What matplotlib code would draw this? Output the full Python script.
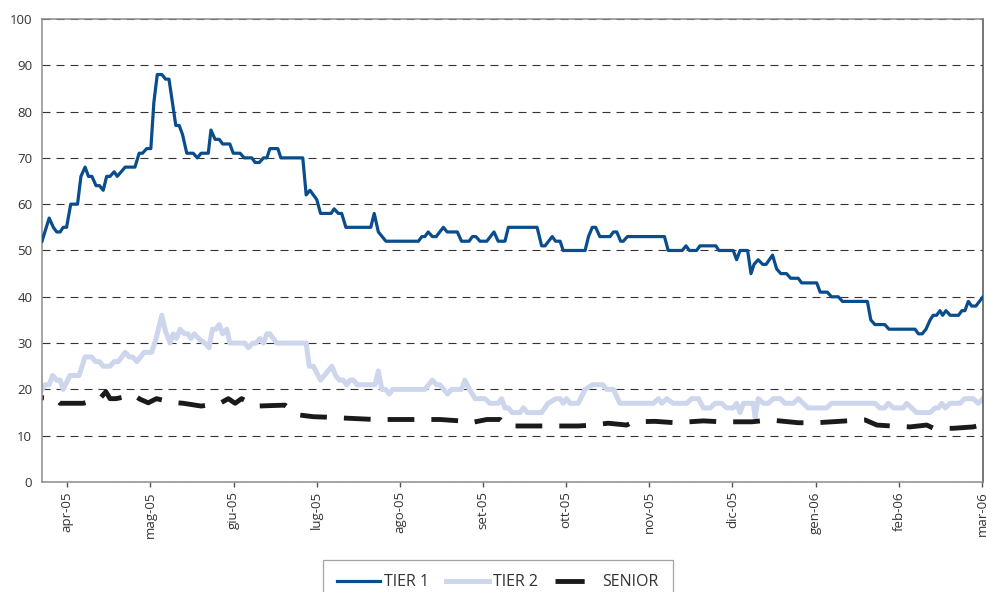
import matplotlib
matplotlib.use("Agg")
import matplotlib.pyplot as plt

plt.rcParams['font.family'] = ['Open Sans', 'DejaVu Sans']

# x = trading-day index from the start of the window (about 250 days)
month_labels = ["apr-05", "mag-05", "giu-05", "lug-05", "ago-05", "set-05",
                "ott-05", "nov-05", "dic-05", "gen-06", "feb-06", "mar-06"]

tier1_x = [0, 1.9, 3.0, 3.9, 4.8, 5.6, 6.5, 7.6, 9.4, 10.3, 11.4, 12.3, 13.2, 14.3,
           15.2, 16.2, 17.1, 18.0, 19.1, 19.9, 22.0, 24.6, 25.7, 26.6, 27.7, 28.8,
           29.6, 30.5, 31.7, 32.7, 33.6, 35.4, 36.3, 37.2, 38.3, 40.0, 41.1, 42.1,
           44.0, 44.7, 45.8, 46.9, 47.8, 49.7, 50.6, 52.4, 53.5, 55.5, 56.4, 57.5,
           58.6, 59.5, 60.3, 62.4, 63.2, 69.0, 69.9, 70.9, 72.7, 73.7, 76.5, 77.3,
           78.4, 79.3, 80.4, 87.0, 87.9, 89.0, 91.0, 99.6, 100.5, 101.3, 102.2,
           103.3, 104.3, 106.2, 107.2, 109.9, 111.0, 113.0, 113.9, 114.8, 115.9,
           117.7, 119.6, 120.7, 122.5, 123.4, 131.0, 132.2, 133.1, 135.0, 135.9,
           137.1, 137.9, 143.7, 144.6, 145.6, 146.5, 147.6, 150.3, 151.2, 152.1,
           153.1, 153.8, 154.9, 164.7, 165.7, 169.4, 170.4, 171.3, 173.2, 174.1,
           178.3, 179.1, 182.9, 183.8, 184.7, 186.7, 187.6, 188.4, 189.5, 190.7,
           191.6, 193.3, 194.4, 195.5, 197.0, 198.1, 200.1, 201.0, 205.0, 205.9,
           207.8, 208.9, 210.7, 211.8, 218.4, 219.3, 220.4, 223.0, 224.1, 231.0,
           231.9, 232.9, 233.9, 235.0, 235.8, 236.7, 237.6, 238.3, 239.2, 240.3,
           242.5, 243.4, 244.2, 245.1, 246.0, 247.1, 249.0]
tier1_y = [52, 57, 55, 54, 54, 55, 55, 60, 60, 66, 68, 66, 66, 64,
           64, 63, 66, 66, 67, 66, 68, 68, 71, 71, 72, 72,
           82, 88, 88, 87, 87, 77, 77, 75, 71, 71, 70, 71,
           71, 76, 74, 74, 73, 73, 71, 71, 70, 70, 69, 69,
           70, 70, 72, 72, 70, 70, 62, 63, 61, 58, 58, 59,
           58, 58, 55, 55, 58, 54, 52, 52, 53, 53, 54,
           53, 53, 55, 54, 54, 52, 52, 53, 53, 52,
           52, 54, 52, 52, 55, 55, 51, 51, 53, 52,
           52, 50, 50, 53, 55, 55, 53, 53, 54, 54,
           52, 52, 53, 53, 50, 50, 51, 50, 50, 51,
           51, 50, 50, 48, 50, 50, 45, 47, 48, 47,
           47, 49, 46, 45, 45, 44, 44, 43, 43, 41,
           41, 40, 40, 39, 39, 35, 34, 34, 33, 33,
           32, 32, 33, 35, 36, 36, 37, 36, 37, 36,
           36, 37, 37, 39, 38, 38, 40]

tier2_x = [0, 0.8, 1.9, 2.8, 3.9, 4.8, 5.6, 7.4, 9.8, 11.4, 13.1, 14.2, 15.2, 16.2,
           18.0, 19.1, 20.2, 22.0, 23.1, 24.0, 25.1, 27.0, 29.0, 30.2, 31.7, 32.7,
           33.9, 34.7, 35.6, 36.5, 37.7, 38.6, 39.4, 40.3, 41.8, 43.1, 44.2, 45.1,
           46.0, 46.9, 47.8, 48.9, 49.7, 53.7, 54.6, 55.8, 56.6, 57.7, 58.6, 59.5,
           60.3, 62.1, 69.9, 70.7, 71.8, 73.7, 76.7, 77.7, 78.7, 79.7, 80.6, 81.5,
           82.4, 83.4, 88.1, 89.0, 89.9, 90.9, 91.9, 92.8, 101.3, 103.3, 104.4,
           105.3, 107.3, 108.4, 111.0, 111.9, 113.1, 114.6, 117.2, 118.5, 120.7,
           121.6, 122.5, 123.4, 124.4, 126.5, 127.4, 128.4, 132.2, 133.9, 136.0,
           137.1, 137.9, 138.8, 139.7, 141.9, 143.7, 145.7, 148.4, 149.4, 151.2,
           152.9, 161.8, 163.1, 164.0, 165.3, 167.0, 170.6, 171.9, 173.7, 175.0,
           176.8, 178.1, 179.8, 181.2, 182.9, 183.8, 184.7, 185.6, 188.2, 188.7,
           189.5, 190.9, 192.2, 193.5, 195.3, 196.6, 198.8, 200.1, 201.4, 202.7,
           207.6, 208.9, 220.4, 221.7, 223.0, 223.9, 225.3, 227.9, 228.8, 230.1,
           231.4, 235.0, 236.3, 237.2, 238.1, 239.0, 240.3, 242.9, 244.2, 246.4,
           247.7, 249.0]
tier2_y = [20, 21, 21, 23, 22, 22, 20, 23, 23, 27, 27, 26, 26, 25,
           25, 26, 26, 28, 27, 27, 26, 28, 28, 31, 36, 32.5,
           30, 32, 31, 33, 32, 32, 31, 32, 30.7, 30, 29, 33,
           33, 34, 32, 33, 30, 30, 29, 30, 30, 31, 30, 32,
           32, 30, 30, 25, 25, 22, 25, 23, 22, 22, 21, 22,
           22, 21, 21, 24, 20, 20, 19, 20, 20, 22, 21,
           21, 19, 20, 20, 22, 20, 18, 18, 17, 17,
           18, 16, 16, 15, 15, 16, 15, 15, 17, 18,
           18, 17, 18, 17, 17, 20, 21, 21, 20, 20,
           17, 17, 18, 17, 18, 17, 17, 18, 18, 16,
           16, 17, 17, 16, 16, 17, 15, 17, 17, 14,
           18, 17, 17, 18, 18, 17, 17, 18, 17, 16,
           16, 17, 17, 16, 16, 17, 16, 16, 17, 16,
           15, 15, 16, 16, 17, 16, 17, 17, 18, 18,
           17, 18]

senior_x = [0, 3.7, 4.8, 10.9, 15.3, 16.9, 18.0, 19.6, 24.2, 25.9, 28.1, 30.3, 34.3,
            37.4, 42.1, 47.1, 49.3, 51.1, 52.8, 56.8, 64.3, 67.8, 71.8, 75.3, 80.2,
            88.1, 100.9, 105.3, 110.6, 112.8, 117.7, 121.2, 123.0, 137.5, 141.9,
            145.9, 149.8, 154.7, 156.5, 162.2, 167.5, 175.0, 179.8, 187.8, 192.6,
            200.1, 205.0, 212.9, 217.8, 220.9, 224.8, 229.7, 234.1, 235.9, 241.1,
            246.4, 249.0]
senior_y = [18.2, 18, 17, 17, 18, 19.5, 18, 18, 18.8, 17.9, 17.1, 18, 17.2,
            17, 16.4, 17, 18, 17, 18, 16.4, 16.6, 14.5, 14.1, 14, 13.8,
            13.5, 13.5, 13.5, 13.2, 12.7, 13.5, 13.5, 12.1, 12.1, 12.1,
            12.3, 12.7, 12.3, 13, 13.1, 12.8, 13.2, 13, 13, 13.4,
            12.8, 12.8, 13.2, 13.4, 12.3, 12.1, 11.9, 12.3, 11.6, 11.6,
            11.9, 12.4]

assert len(tier1_x) == len(tier1_y)
assert len(tier2_x) == len(tier2_y)
assert len(senior_x) == len(senior_y)

tick_start = 6.7   # day index of the first month label
tick_step = 22.0   # trading days between labels

fig = plt.figure(figsize=(9.86, 5.92), dpi=100)
ax = fig.add_axes([0.0426, 0.1858, 0.9544, 0.7822])

ax.plot(tier1_x, tier1_y, color='#0a4d8c', lw=2.3, label='TIER 1', zorder=3,
        solid_joinstyle='round')
ax.plot(tier2_x, tier2_y, color='#cdd6ec', lw=3.6, label='TIER 2', zorder=2,
        solid_joinstyle='round')
ax.plot(senior_x, senior_y, color='#1a1a1a', lw=3.5, label='SENIOR', zorder=2,
        linestyle=(5.1, (5.5, 3.5)), dash_capstyle='butt')

ax.set_xlim(0, 249)
ax.set_ylim(0, 100)
ax.set_yticks(range(0, 101, 10))
ax.set_xticks([tick_start + tick_step * i for i in range(len(month_labels))])
ax.set_xticklabels(month_labels, rotation=90, fontsize=9.5, color='#333333')
ax.tick_params(axis='y', length=0, pad=7, labelsize=9.5, labelcolor='#333333')
ax.tick_params(axis='x', length=3.6, width=1, color='#555555', pad=3)

ax.yaxis.grid(True, color='#333333', lw=0.8, linestyle=(0, (7.2, 5.4)))
ax.set_axisbelow(True)

for side in ['left', 'bottom', 'top']:
    ax.spines[side].set_color('#8c8c8c')
    ax.spines[side].set_linewidth(1.1)
ax.spines['right'].set_color('#505050')
ax.spines['right'].set_linewidth(1.1)

leg = fig.legend(loc='upper center', bbox_to_anchor=(0.505, 1 - 552 / 592), ncol=3,
                 fontsize=11.5, frameon=True, fancybox=False, borderpad=0.9,
                 handlelength=2.7, handletextpad=0.25, columnspacing=1.05)
leg.get_frame().set_edgecolor('#8c8c8c')
leg.get_frame().set_linewidth(0.9)
for t in leg.get_texts():
    t.set_color('#333333')
# the senior key shows one solid dash, then a gap before its text
leg.get_lines()[2].set_linestyle((0, (6.0, 4.0)))

fig.savefig('out.png', dpi=100)
